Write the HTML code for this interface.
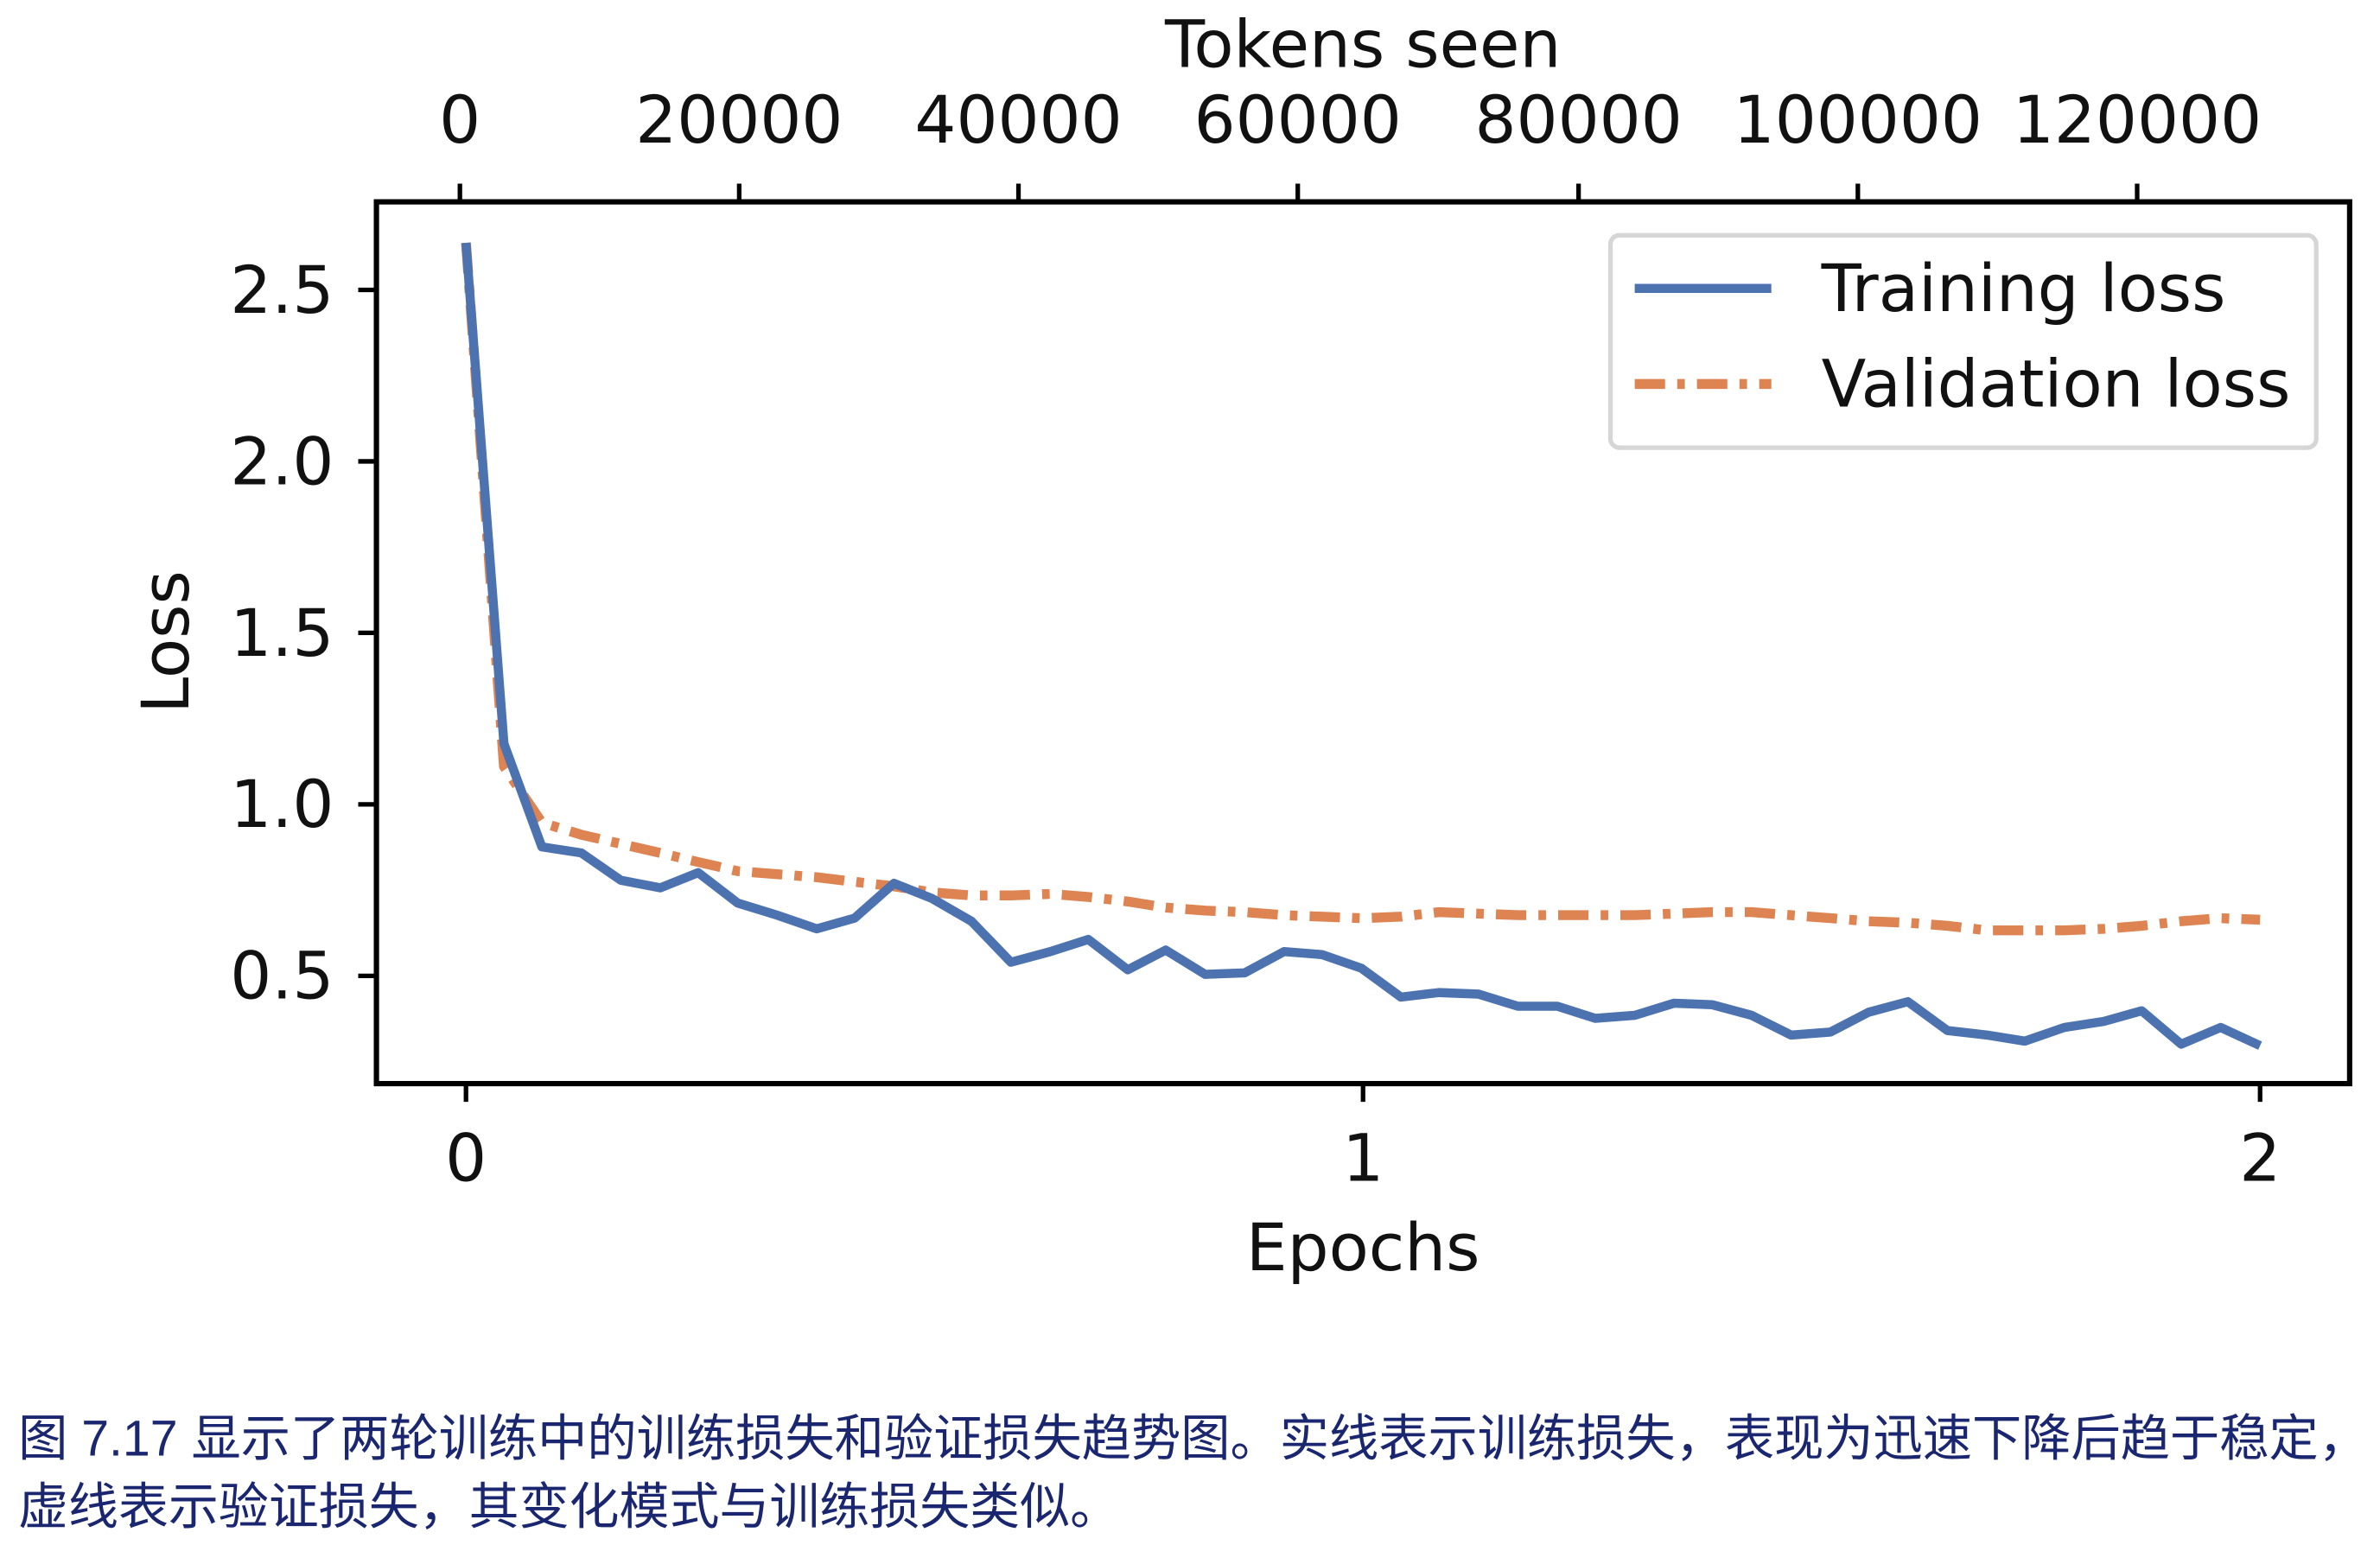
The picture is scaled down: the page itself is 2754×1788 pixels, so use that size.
<!DOCTYPE html>
<html><head><meta charset="utf-8"><style>
html,body{margin:0;padding:0;background:#fff;}
svg{display:block;}
text{font-family:"DejaVu Sans","Liberation Sans",sans-serif;fill:#111;}
.cap{font-family:"Liberation Sans","Noto Sans CJK SC",sans-serif;fill:#1a2670;}
</style></head><body>
<svg width="2754" height="1788" viewBox="0 0 1568 1018" preserveAspectRatio="none" xmlns="http://www.w3.org/2000/svg">
<rect width="1568" height="1018" fill="#fff"/>
<rect x="248" y="133" width="1300" height="581" fill="none" stroke="#000" stroke-width="3.5"/>
<g stroke="#000" stroke-width="3">
<line x1="236" y1="191" x2="248" y2="191"/><line x1="236" y1="304" x2="248" y2="304"/>
<line x1="236" y1="417" x2="248" y2="417"/><line x1="236" y1="530" x2="248" y2="530"/>
<line x1="236" y1="643" x2="248" y2="643"/>
<line x1="307" y1="714" x2="307" y2="726"/><line x1="898" y1="714" x2="898" y2="726"/><line x1="1489" y1="714" x2="1489" y2="726"/>
<line x1="303" y1="121" x2="303" y2="133"/><line x1="487" y1="121" x2="487" y2="133"/><line x1="671" y1="121" x2="671" y2="133"/>
<line x1="855" y1="121" x2="855" y2="133"/><line x1="1040" y1="121" x2="1040" y2="133"/><line x1="1224" y1="121" x2="1224" y2="133"/><line x1="1408" y1="121" x2="1408" y2="133"/>
</g>
<g font-size="43" text-anchor="end">
<text x="220" y="206">2.5</text><text x="220" y="319">2.0</text><text x="220" y="432">1.5</text><text x="220" y="545">1.0</text><text x="220" y="658">0.5</text>
</g>
<g font-size="43" text-anchor="middle">
<text x="307" y="778">0</text><text x="898" y="778">1</text><text x="1489" y="778">2</text>
<text x="303" y="94">0</text><text x="487" y="94">20000</text><text x="671" y="94">40000</text><text x="855" y="94">60000</text>
<text x="1040" y="94">80000</text><text x="1224" y="94">100000</text><text x="1408" y="94">120000</text>
<text x="898" y="837">Epochs</text>
<text x="898" y="44">Tokens seen</text>
<text x="0" y="0" transform="translate(124,423) rotate(-90)">Loss</text>
</g>
<polyline fill="none" stroke="#dd8452" stroke-width="6.5" stroke-dasharray="20,8,5,8" stroke-linejoin="round" points="307,160 332,505 357,542 383,550 409,556 435,562 460,568 486,574 512,576 538,578 563,581 589,584 614,588 640,590 666,590 692,589 717,591 743,594 768,598 794,600 820,601 846,603 871,604 897,605 923,604 948,601 974,602 1000,603 1026,603 1051,603 1077,603 1103,602 1128,601 1154,601 1180,603 1206,605 1231,607 1257,608 1283,610 1309,613 1334,613 1360,613 1386,612 1411,610 1437,607 1463,605 1489,606"/>
<polyline fill="none" stroke="#4c72b0" stroke-width="6" stroke-linejoin="round" points="307,160 332,490 357,558 383,562 409,580 435,585 460,575 486,595 512,603 538,612 563,605 589,582 614,592 640,607 666,634 692,627 717,619 743,639 768,626 794,642 820,641 846,627 871,629 897,638 923,657 948,654 974,655 1000,663 1026,663 1051,671 1077,669 1103,661 1128,662 1154,669 1180,682 1206,680 1231,667 1257,660 1283,679 1309,682 1334,686 1360,677 1386,673 1411,666 1437,688 1463,677 1489,689"/>
<rect x="1061" y="155" width="465" height="140" rx="6" fill="#fff" fill-opacity="0.85" stroke="#d6d6d6" stroke-width="3"/>
<line x1="1077" y1="190" x2="1167" y2="190" stroke="#4c72b0" stroke-width="6"/>
<line x1="1077" y1="253" x2="1167" y2="253" stroke="#dd8452" stroke-width="6.5" stroke-dasharray="20,8,5,8"/>
<text x="1200" y="205" font-size="43">Training loss</text>
<text x="1200" y="268" font-size="43">Validation loss</text>
<text class="cap" x="12" y="959" font-size="33" textLength="1548" lengthAdjust="spacingAndGlyphs">图 7.17 显示了两轮训练中的训练损失和验证损失趋势图。实线表示训练损失，表现为迅速下降后趋于稳定，</text>
<text class="cap" x="12" y="1004" font-size="33">虚线表示验证损失，其变化模式与训练损失类似。</text>
</svg>
</body></html>
